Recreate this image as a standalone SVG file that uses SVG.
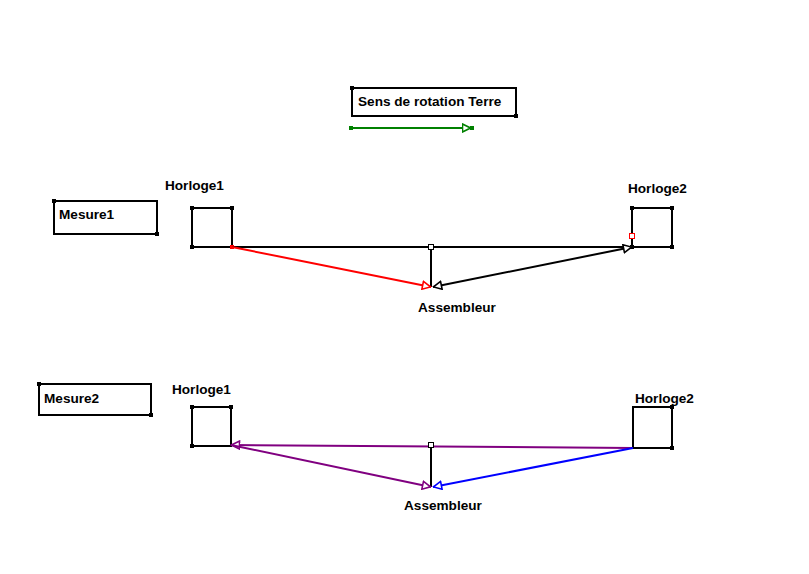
<svg xmlns="http://www.w3.org/2000/svg" width="809" height="574" viewBox="0 0 809 574">
<style>
.box{fill:none;stroke:#000;stroke-width:2}
.lbl{font-family:"Liberation Sans",Arial,sans-serif;font-weight:bold;font-size:13.6px;fill:#000}
.dot{fill:#000}
.ln{fill:none;stroke-width:2}
</style>
<defs>
<marker id="aBlack" viewBox="0 0 10 10" refX="9.5" refY="5" markerWidth="10" markerHeight="10" markerUnits="userSpaceOnUse" orient="auto-start-reverse"><path d="M1,1 L9,5 L1,9 z" fill="#fff" stroke="#000" stroke-width="1.6"/></marker>
<marker id="aRed" viewBox="0 0 10 10" refX="9.5" refY="5" markerWidth="10" markerHeight="10" markerUnits="userSpaceOnUse" orient="auto"><path d="M1,1 L9,5 L1,9 z" fill="#fff" stroke="#f00" stroke-width="1.6"/></marker>
<marker id="aGreen" viewBox="0 0 10 10" refX="9.5" refY="5" markerWidth="10" markerHeight="10" markerUnits="userSpaceOnUse" orient="auto"><path d="M1,1 L9,5 L1,9 z" fill="#fff" stroke="#008000" stroke-width="1.6"/></marker>
<marker id="aPurple" viewBox="0 0 10 10" refX="9.5" refY="5" markerWidth="10" markerHeight="10" markerUnits="userSpaceOnUse" orient="auto"><path d="M1,1 L9,5 L1,9 z" fill="#fff" stroke="#800080" stroke-width="1.6"/></marker>
<marker id="aBlue" viewBox="0 0 10 10" refX="9.5" refY="5" markerWidth="10" markerHeight="10" markerUnits="userSpaceOnUse" orient="auto"><path d="M1,1 L9,5 L1,9 z" fill="#fff" stroke="#00f" stroke-width="1.6"/></marker>
</defs>

<g id="title">
<rect class="box" x="352" y="88" width="164" height="28"/>
<rect class="dot" x="350" y="86" width="4" height="4"/>
<rect class="dot" x="514" y="114" width="4" height="4"/>
<text class="lbl" x="358" y="106">Sens de rotation Terre</text>
</g>

<g id="mesure1">
<rect class="box" x="54" y="201" width="103" height="33"/>
<rect class="dot" x="52" y="199" width="4" height="4"/>
<rect class="dot" x="155" y="232" width="4" height="4"/>
<text class="lbl" x="59" y="219">Mesure1</text>
</g>

<g id="horloge1a">
<rect class="box" x="192" y="208" width="40" height="39"/>
<rect class="dot" x="190" y="206" width="4" height="4"/>
<rect class="dot" x="230" y="206" width="4" height="4"/>
<rect class="dot" x="190" y="245" width="4" height="4"/>
<rect x="230" y="245" width="4" height="4" fill="#f00"/>
<text class="lbl" x="165" y="190">Horloge1</text>
</g>

<g id="horloge2a">
<rect class="box" x="632" y="208" width="40" height="39"/>
<rect class="dot" x="630" y="206" width="4" height="4"/>
<rect class="dot" x="670" y="206" width="4" height="4"/>
<rect class="dot" x="670" y="245" width="4" height="4"/>
<rect class="dot" x="630" y="245" width="4" height="4"/>
<rect x="629.5" y="233.5" width="5" height="5" fill="#fff" stroke="#f00" stroke-width="1"/>
<text class="lbl" x="628" y="193">Horloge2</text>
</g>

<g id="assembleur1">
<text class="lbl" x="418" y="312">Assembleur</text>
</g>

<g id="mesure2">
<rect class="box" x="39" y="384" width="112" height="31"/>
<rect class="dot" x="37" y="382" width="4" height="4"/>
<rect class="dot" x="149" y="413" width="4" height="4"/>
<text class="lbl" x="44" y="403">Mesure2</text>
</g>

<g id="horloge1b">
<rect class="box" x="192" y="407" width="39" height="39"/>
<rect class="dot" x="190" y="405" width="4" height="4"/>
<rect class="dot" x="229" y="405" width="4" height="4"/>
<rect class="dot" x="190" y="444" width="4" height="4"/>
<text class="lbl" x="172" y="394">Horloge1</text>
</g>

<g id="horloge2b">
<rect class="box" x="633" y="407" width="39" height="41"/>
<rect class="dot" x="670" y="405" width="4" height="4"/>
<rect class="dot" x="670" y="446" width="4" height="4"/>
<text class="lbl" x="635" y="403">Horloge2</text>
</g>

<g id="assembleur2">
<text class="lbl" x="404" y="510">Assembleur</text>
</g>

<g id="connectors">
<line class="ln" stroke="#008000" x1="351" y1="128" x2="471" y2="128" marker-end="url(#aGreen)"/>
<rect x="349" y="126" width="4" height="4" fill="#008000"/>
<rect x="470" y="126" width="4" height="4" fill="#008000"/>

<line class="ln" stroke="#000" x1="232" y1="247" x2="632" y2="247"/>
<line class="ln" stroke="#000" x1="431" y1="247" x2="431" y2="287"/>
<rect x="428.5" y="244.5" width="5" height="5" fill="#fff" stroke="#000" stroke-width="1"/>
<line class="ln" stroke="#f00" x1="232" y1="247" x2="431" y2="287" marker-end="url(#aRed)"/>
<line class="ln" stroke="#000" x1="433" y1="287" x2="632" y2="247" marker-start="url(#aBlack)" marker-end="url(#aBlack)"/>

<line class="ln" stroke="#800080" x1="633" y1="448" x2="231" y2="445" marker-end="url(#aPurple)"/>
<line class="ln" stroke="#000" x1="431" y1="445" x2="431" y2="487"/>
<rect x="428.5" y="442.5" width="5" height="5" fill="#fff" stroke="#000" stroke-width="1"/>
<line class="ln" stroke="#800080" x1="231" y1="445" x2="431" y2="487" marker-end="url(#aPurple)"/>
<line class="ln" stroke="#00f" x1="633" y1="448" x2="433" y2="487" marker-end="url(#aBlue)"/>
</g>
</svg>
